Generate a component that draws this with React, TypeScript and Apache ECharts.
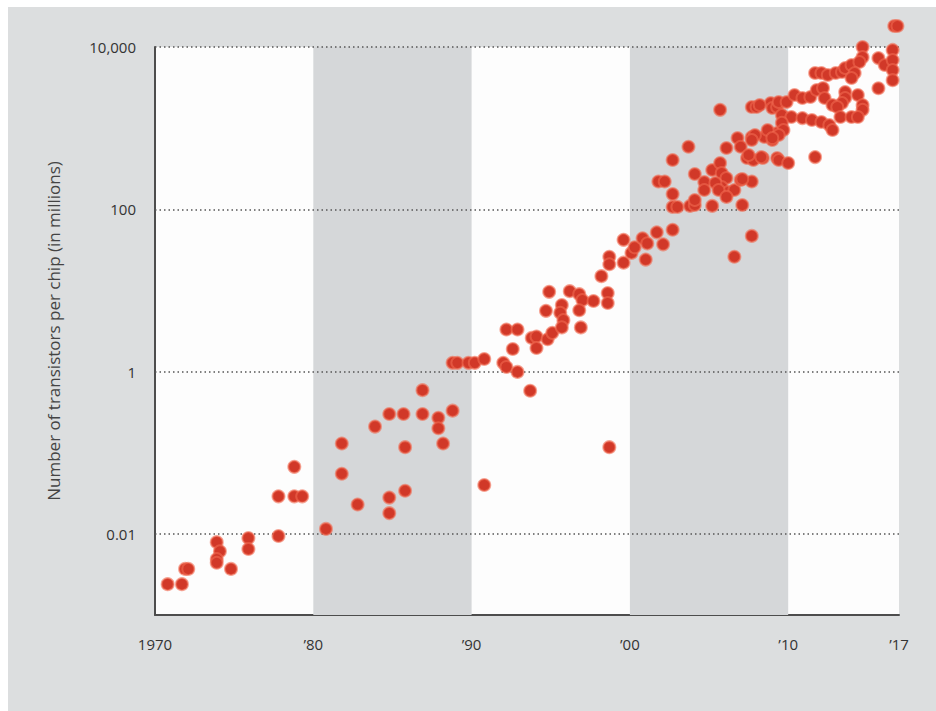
import React, { useEffect, useRef } from "react";
import * as echarts from "echarts";

// Year of introduction for each chip
const years = [
  1970.8, 1971.7, 1971.9, 1972.1, 1973.9, 1974.1, 1973.9, 1973.9, 1974.8, 1975.9,
  1975.9, 1977.8, 1977.8, 1978.8, 1978.8, 1979.3,
  1980.8, 1981.8, 1981.8, 1982.8, 1983.9, 1984.8, 1985.7, 1984.8, 1984.8, 1985.8,
  1985.8, 1986.9, 1986.9, 1987.9, 1987.9, 1988.2, 1988.8, 1988.8, 1989.1, 1989.8,
  1990.2, 1990.8, 1990.8, 1992.0, 1992.2, 1992.9, 1993.7, 1992.2, 1992.9, 1992.6,
  1993.8, 1994.1, 1994.1, 1994.8, 1995.1, 1994.7, 1994.9, 1995.7, 1995.6, 1995.8,
  1995.7, 1996.2, 1996.8, 1997.0, 1996.8, 1996.9, 1997.7, 1998.6, 1998.6, 1998.2,
  1998.7, 1998.7, 1999.6, 1999.6, 2000.1, 2000.3, 2000.8, 2001.1, 2001.0, 2001.7,
  1998.7, 2002.1, 2002.7, 2007.7, 2006.6, 2002.7, 2003.7, 2005.7, 2001.8, 2002.2,
  2002.7, 2002.7, 2003.0, 2003.8, 2004.1, 2005.2, 2007.1, 2004.1, 2004.7, 2004.7,
  2005.2, 2005.7, 2005.8, 2006.1, 2005.8, 2006.2, 2006.6, 2007.0, 2007.7, 2005.4,
  2005.6, 2006.1, 2007.1, 2004.1, 2006.1, 2006.8, 2007.0, 2007.4, 2007.8, 2008.4,
  2009.3, 2007.7, 2008.7, 2009.0, 2008.5, 2009.3, 2008.7, 2007.7, 2008.0, 2008.9,
  2009.0, 2009.3, 2016.7, 2016.9, 2014.7, 2014.7, 2015.7, 2016.1, 2016.6, 2016.6,
  2016.6, 2016.6, 2015.7, 2011.7, 2012.1, 2012.5, 2013.0, 2013.4, 2013.6, 2014.0,
  2014.5, 2014.2, 2014.0, 2013.6, 2013.6, 2013.4, 2014.4, 2014.7, 2014.7, 2008.2,
  2009.4, 2009.9, 2010.4, 2010.9, 2011.4, 2011.8, 2012.2, 2012.3, 2012.8, 2013.1,
  2009.6, 2010.2, 2010.9, 2011.5, 2012.1, 2012.6, 2012.8, 2013.3, 2014.0, 2014.4,
  2009.6, 2009.7, 2009.4, 2009.0, 2007.9, 2007.7, 2007.5, 2008.3, 2009.4, 2010.0,
  2011.7,
];

// Transistors per chip, in millions (same order as years)
const transistors = [
  0.0024, 0.0024, 0.0037, 0.0037, 0.0079, 0.0061, 0.0049, 0.0044, 0.0037, 0.0089,
  0.0065, 0.029, 0.0094, 0.067, 0.029, 0.029,
  0.0115, 0.13, 0.055, 0.023, 0.21, 0.3, 0.3, 0.028, 0.018, 0.117,
  0.034, 0.59, 0.3, 0.27, 0.2, 0.13, 0.33, 1.28, 1.28, 1.28,
  1.28, 1.43, 0.04, 1.28, 1.14, 0.99, 0.58, 3.3, 3.3, 1.9,
  2.6, 2.7, 1.95, 2.5, 3.0, 5.6, 9.6, 6.6, 5.3, 4.3,
  3.5, 9.8, 9.0, 7.6, 5.7, 3.5, 7.4, 9.3, 7.0, 15,
  26, 21, 42, 22, 29, 34, 44, 38, 24, 52,
  0.117, 37, 56, 47, 26, 405, 590, 1680, 220, 220,
  154, 107, 107, 110, 113, 110, 113, 272, 217, 173,
  305, 372, 280, 243, 188, 163, 173, 230, 220, 211,
  173, 142, 236, 130, 569, 755, 590, 428, 405, 428,
  428, 778, 823, 714, 778, 871, 948, 1820, 1820, 2040,
  1770, 1820, 18150, 18150, 10000, 7500, 7300, 6000, 9200, 6900,
  5200, 3900, 3100, 4780, 4780, 4520, 4780, 4920, 5510, 6000,
  6530, 4780, 4150, 2790, 2350, 2040, 2560, 1930, 1680, 1930,
  2100, 2100, 2560, 2350, 2420, 2950, 3120, 2350, 1930, 1820,
  1450, 1370, 1330, 1260, 1190, 1090, 948, 1370, 1370, 1370,
  1160, 948, 823, 755, 823, 714, 467, 440, 405, 372,
  440,
];

const xTickValues = [1970, 1980, 1990, 2000, 2010, 2017];
const xTickLabels = ["1970", "\u201980", "\u201990", "\u201900", "\u201910", "\u201917"];
const yTickExponents = [-2, 0, 2, 4];
const yTickValues = [0.01, 1, 100, 10000];
const yTickLabels = ["0.01", "1", "100", "10,000"];
const shadedStarts = [1980, 2000];
const shadedEnds = [1990, 2010];
const yAxisTitle = "Number of transistors per chip (in millions)";

const FONT = "'Open Sans', 'Noto Sans', sans-serif";

export default function App() {
  const ref = useRef<HTMLDivElement>(null);
  useEffect(() => {
    if (!ref.current) return;
    const chart = echarts.init(ref.current, null, { renderer: "svg" });
    const data = years.map((y, i) => [y, transistors[i]]);
    chart.setOption({
      animation: false,
      backgroundColor: "#dcdedf",
      grid: {
        left: 147,
        top: 40,
        right: 37,
        bottom: 96,
        show: true,
        backgroundColor: "#fdfdfd",
        borderWidth: 0,
      },
      xAxis: {
        type: "value",
        min: 1970,
        max: 2017,
        interval: 10,
        axisLine: { show: true, onZero: false, lineStyle: { color: "#4d4d4d", width: 2 } },
        axisTick: { show: false },
        splitLine: { show: false },
        axisLabel: {
          customValues: xTickValues,
          formatter: (v: number) => {
            const i = xTickValues.indexOf(Math.round(v));
            return i >= 0 ? xTickLabels[i] : "";
          },
          margin: 21,
          color: "#333",
          fontFamily: FONT,
          fontSize: 15,
        },
      },
      yAxis: {
        type: "log",
        logBase: 10,
        min: 0.001,
        max: 10000,
        axisLine: { show: true, lineStyle: { color: "#4d4d4d", width: 2 } },
        axisTick: { show: false },
        splitLine: { show: false },
        axisLabel: {
          formatter: (v: number) => {
            const e = Math.round(Math.log10(v));
            const i = yTickExponents.indexOf(e);
            return i >= 0 ? yTickLabels[i] : "";
          },
          margin: 19,
          color: "#333",
          fontFamily: FONT,
          fontSize: 15,
        },
        name: yAxisTitle,
        nameLocation: "middle",
        nameRotate: 90,
        nameGap: 93,
        nameTextStyle: { color: "#444", fontFamily: FONT, fontSize: 17 },
      },
      series: [
        {
          type: "scatter",
          data,
          symbol: "circle",
          symbolSize: 12,
          clip: false,
          z: 5,
          itemStyle: {
            color: "#d13828",
            borderColor: "rgba(240,105,80,0.6)",
            borderWidth: 2,
            opacity: 1,
          },
          markArea: {
            silent: true,
            itemStyle: { color: "#d5d7d9" },
            data: shadedStarts.map((s, i) => [{ xAxis: s }, { xAxis: shadedEnds[i] }]),
          },
          markLine: {
            silent: true,
            symbol: "none",
            label: { show: false },
            lineStyle: { type: [1.5, 3], color: "#555", width: 1.5 },
            data: yTickValues.map((v) => ({ yAxis: v })),
          },
        },
      ],
    });
    return () => chart.dispose();
  }, []);
  return (
    <div style={{ position: "fixed", left: 8, top: 7, width: 928, height: 704 }}>
      <div ref={ref} style={{ width: "100%", height: "100%" }} />
    </div>
  );
}
